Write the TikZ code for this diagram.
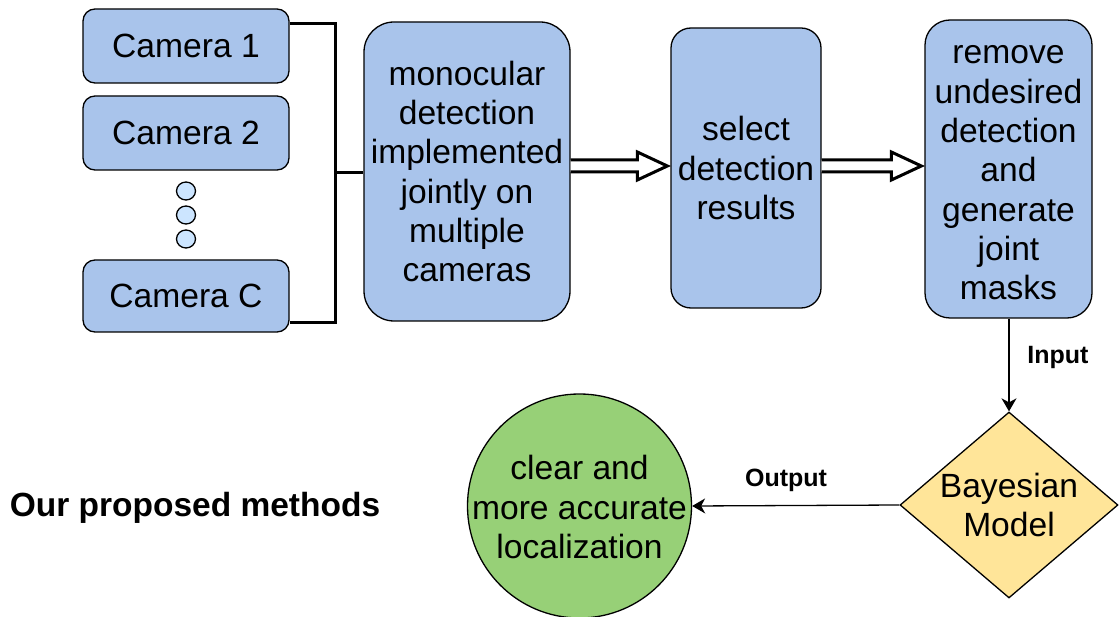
\documentclass[tikz,border=0pt]{standalone}
\usepackage{fontspec}
\setmainfont{Liberation Sans}
\usetikzlibrary{shapes.geometric,arrows.meta,calc}
\definecolor{boxblue}{HTML}{A9C4EB}
\definecolor{dotblue}{HTML}{CCE5FF}
\definecolor{diayellow}{HTML}{FFE599}
\definecolor{circgreen}{HTML}{97D077}
\tikzset{
  body/.style={font=\fontsize{33.6}{39.3}\selectfont},
  lbl/.style={font=\fontsize{25}{30}\selectfont\bfseries},
  stepbox/.style={draw=black, line width=1.3pt, fill=boxblue, rectangle,
    inner sep=0pt, align=center, body},
  dotc/.style={draw=black, line width=1.3pt, fill=dotblue, ellipse,
    minimum width=19pt, minimum height=18pt, inner sep=0pt},
  bracket/.style={line width=3pt},
  flow/.style={line width=1.3pt, -{Stealth[length=13pt,width=15pt,inset=4pt]}},
  hollow/.style={draw=black, line width=3pt, fill=white, line join=miter},
}
% hollow block arrow between two points at the same height
\newcommand{\hollowarrow}[2]{%
  \path[hollow] let \p1=(#1), \p2=(#2) in
    (\x1,\y1+6pt) -- (\x2-30pt,\y1+6pt) -- (\x2-30pt,\y1+14pt) --
    (\x2,\y1) -- (\x2-30pt,\y1-14pt) -- (\x2-30pt,\y1-6pt) --
    (\x1,\y1-6pt);}
\begin{document}
\begin{tikzpicture}[x=1pt,y=-1pt]
\useasboundingbox (0,0) rectangle (1119,617);

% cameras
\node[stepbox, rounded corners=12pt, minimum width=206pt, minimum height=74pt] (cam1) at (186,46) {Camera 1};
\node[stepbox, rounded corners=12pt, minimum width=206pt, minimum height=74pt] (cam2) at (186,133) {Camera 2};
\node[stepbox, rounded corners=12pt, minimum width=206pt, minimum height=72pt] (camC) at (186,296) {Camera C};
\node[dotc] (d1) at (186,191) {};
\node[dotc] (d2) at (186,215) {};
\node[dotc] (d3) at (186,239) {};

% processing boxes
\node[stepbox, rounded corners=30pt, minimum width=206pt, minimum height=299pt] (mono) at (467,171.5)
  {monocular\\detection\\implemented\\jointly on\\multiple\\cameras};
\node[stepbox, rounded corners=20pt, minimum width=150pt, minimum height=280pt] (sel) at (746,168)
  {select\\detection\\results};
\node[stepbox, rounded corners=25pt, minimum width=167pt, minimum height=298pt] (rem) at (1008.5,169) {};
\node[body, align=center] (remtxt) at ($(rem.center)+(0,4)$)
  {remove\\undesired\\detection\\and\\generate\\joint\\masks};

% bracket joining the cameras
\coordinate (btop) at (335,24);
\coordinate (bbot) at (335,323);
\coordinate (bmid) at (335,173);
\draw[bracket] (cam1.east |- btop) -- (btop) -- (bbot) -- (camC.east |- bbot);
\draw[bracket] (bmid) -- (mono.west |- bmid);

% hollow arrows between the stages
\coordinate (a1) at ($(mono.east |- 0,166)$);
\coordinate (a2) at ($(sel.west |- 0,166) + (-3,0)$);
\coordinate (a3) at ($(sel.east |- 0,166)$);
\coordinate (a4) at ($(rem.west |- 0,166) + (-3,0)$);
\hollowarrow{a1}{a2}
\hollowarrow{a3}{a4}

% Bayesian model and result
\node[diamond, draw=black, line width=1.3pt, fill=diayellow, minimum width=218pt,
  minimum height=186pt, aspect=1.17, inner sep=0pt] (bay) at (1009,505) {};
\node[body, align=center] (baytxt) at (bay.center) {Bayesian\\Model};
\node[circle, draw=black, line width=1.3pt, fill=circgreen, minimum size=224pt,
  inner sep=0pt] (res) at (579.5,506) {};
\node[body, align=center] (restxt) at ($(res.center)+(0,1)$) {clear and\\more accurate\\localization};

\draw[flow] (rem.south -| bay.north) -- (bay.north);
\draw[flow] (bay.west) -- (res.east);

\node[lbl] (inlbl) at (1058,357) {Input};
\node[lbl] (outlbl) at (786,480) {Output};
\node[font=\fontsize{33.5}{38}\selectfont\bfseries] (title) at (195,508) {Our proposed methods};
\end{tikzpicture}
\end{document}
